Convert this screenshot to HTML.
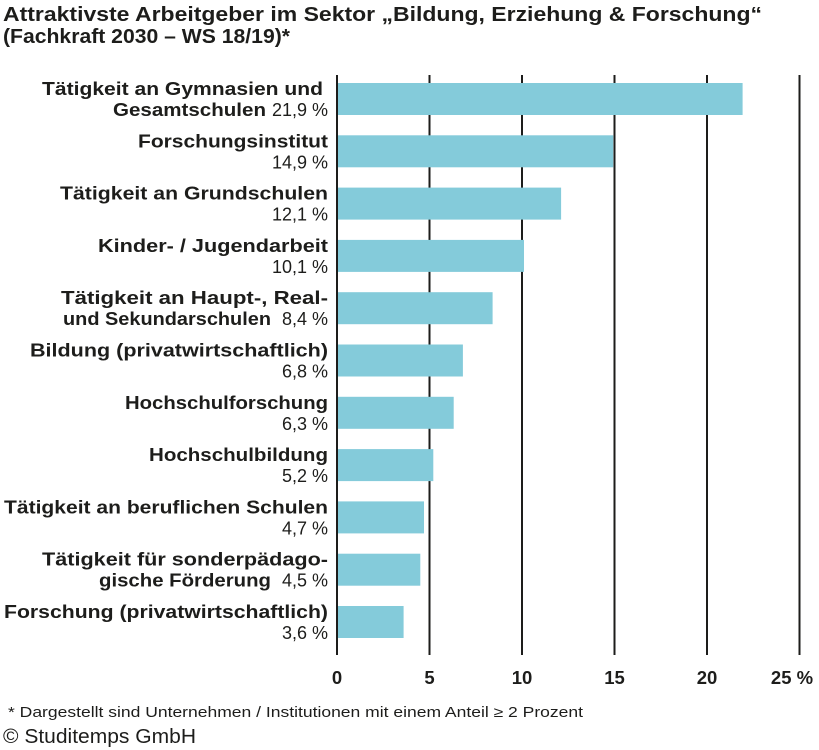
<!DOCTYPE html>
<html><head><meta charset="utf-8"><style>
html,body{margin:0;padding:0;background:#fff}
svg{display:block}
text{font-family:"Liberation Sans","DejaVu Sans",sans-serif;fill:#1d1d1b}
.b{font-weight:bold;font-size:18.5px}
.n{font-size:18px}
.t{font-weight:bold;font-size:20px}
</style></head><body>
<svg width="819" height="750" viewBox="0 0 819 750" xmlns="http://www.w3.org/2000/svg">
<text class="t" x="3" y="21" textLength="759" lengthAdjust="spacingAndGlyphs">Attraktivste Arbeitgeber im Sektor „Bildung, Erziehung &amp; Forschung“</text>
<text class="t" x="3" y="43" textLength="287" lengthAdjust="spacingAndGlyphs">(Fachkraft 2030 – WS 18/19)*</text>
<g stroke="#1d1d1b" stroke-width="2">
<line x1="337" y1="75" x2="337" y2="655"/>
<line x1="429.5" y1="75" x2="429.5" y2="655"/>
<line x1="522" y1="75" x2="522" y2="655"/>
<line x1="614.5" y1="75" x2="614.5" y2="655"/>
<line x1="707" y1="75" x2="707" y2="655"/>
<line x1="799.5" y1="75" x2="799.5" y2="655"/>
</g>
<g fill="#84cbda">
<rect x="338" y="83" width="404.6" height="32"/>
<rect x="338" y="135.3" width="275.2" height="32"/>
<rect x="338" y="187.6" width="223.1" height="32"/>
<rect x="338" y="239.9" width="186" height="32"/>
<rect x="338" y="292.2" width="154.6" height="32"/>
<rect x="338" y="344.5" width="124.9" height="32"/>
<rect x="338" y="396.8" width="115.7" height="32"/>
<rect x="338" y="449.1" width="95.3" height="32"/>
<rect x="338" y="501.4" width="86" height="32"/>
<rect x="338" y="553.7" width="82.3" height="32"/>
<rect x="338" y="606" width="65.6" height="32"/>
</g>
<g>
<text class="b" x="42" y="95" textLength="281" lengthAdjust="spacingAndGlyphs">Tätigkeit an Gymnasien und</text>
<text class="b" x="113" y="116" textLength="153" lengthAdjust="spacingAndGlyphs">Gesamtschulen</text>
<text class="n" x="328" y="116" text-anchor="end">21,9 %</text>

<text class="b" x="138" y="147.3" textLength="190" lengthAdjust="spacingAndGlyphs">Forschungsinstitut</text>
<text class="n" x="328" y="168.3" text-anchor="end">14,9 %</text>

<text class="b" x="60" y="199.6" textLength="268" lengthAdjust="spacingAndGlyphs">Tätigkeit an Grundschulen</text>
<text class="n" x="328" y="220.6" text-anchor="end">12,1 %</text>

<text class="b" x="98" y="251.9" textLength="230" lengthAdjust="spacingAndGlyphs">Kinder- / Jugendarbeit</text>
<text class="n" x="328" y="272.9" text-anchor="end">10,1 %</text>

<text class="b" x="61" y="304.2" textLength="267" lengthAdjust="spacingAndGlyphs">Tätigkeit an Haupt-, Real-</text>
<text class="b" x="63" y="325.2" textLength="208" lengthAdjust="spacingAndGlyphs">und Sekundarschulen</text>
<text class="n" x="328" y="325.2" text-anchor="end">8,4 %</text>

<text class="b" x="30" y="356.5" textLength="298" lengthAdjust="spacingAndGlyphs">Bildung (privatwirtschaftlich)</text>
<text class="n" x="328" y="377.5" text-anchor="end">6,8 %</text>

<text class="b" x="125" y="408.8" textLength="203" lengthAdjust="spacingAndGlyphs">Hochschulforschung</text>
<text class="n" x="328" y="429.8" text-anchor="end">6,3 %</text>

<text class="b" x="149" y="461.1" textLength="179" lengthAdjust="spacingAndGlyphs">Hochschulbildung</text>
<text class="n" x="328" y="482.1" text-anchor="end">5,2 %</text>

<text class="b" x="4" y="513.4" textLength="324" lengthAdjust="spacingAndGlyphs">Tätigkeit an beruflichen Schulen</text>
<text class="n" x="328" y="534.4" text-anchor="end">4,7 %</text>

<text class="b" x="42" y="565.7" textLength="286" lengthAdjust="spacingAndGlyphs">Tätigkeit für sonderpädago-</text>
<text class="b" x="99" y="586.7" textLength="172" lengthAdjust="spacingAndGlyphs">gische Förderung</text>
<text class="n" x="328" y="586.7" text-anchor="end">4,5 %</text>

<text class="b" x="4" y="618" textLength="324" lengthAdjust="spacingAndGlyphs">Forschung (privatwirtschaftlich)</text>
<text class="n" x="328" y="639" text-anchor="end">3,6 %</text>
</g>
<g text-anchor="middle" style="font-weight:bold;font-size:18.5px">
<text x="337" y="684">0</text>
<text x="429.5" y="684">5</text>
<text x="522" y="684">10</text>
<text x="614.5" y="684">15</text>
<text x="707" y="684">20</text>
<text x="792" y="684">25 %</text>
</g>
<text x="8" y="717" style="font-size:14.5px" textLength="575" lengthAdjust="spacingAndGlyphs">* Dargestellt sind Unternehmen / Institutionen mit einem Anteil ≥ 2 Prozent</text>
<text x="3" y="743" style="font-size:20px" textLength="193" lengthAdjust="spacingAndGlyphs">© Studitemps GmbH</text>
</svg>
</body></html>
